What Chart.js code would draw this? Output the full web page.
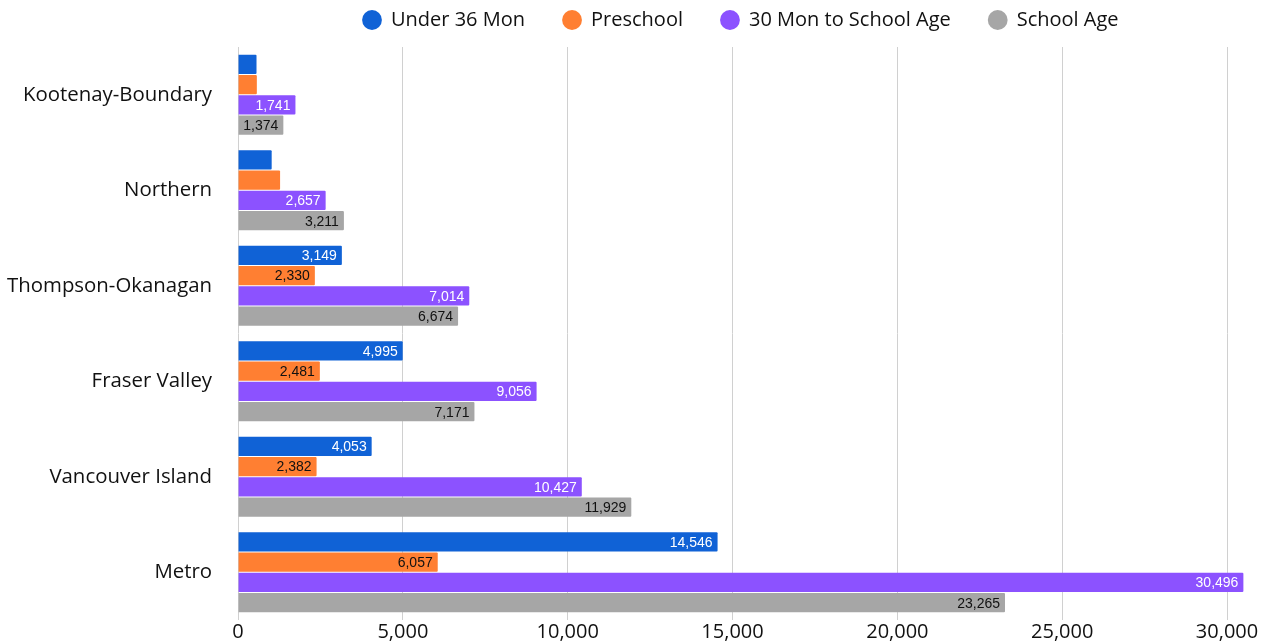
<!DOCTYPE html>
<html>
<head>
<meta charset="utf-8">
<script src="https://cdn.jsdelivr.net/npm/chart.js@4"></script>
<style>
html,body{margin:0;padding:0;background:#fff;}
#wrap{width:1271px;height:642px;position:relative;}
</style>
</head>
<body>
<div id="wrap"><canvas id="c" width="1271" height="642"></canvas></div>
<script>
const categories = ["Kootenay-Boundary","Northern","Thompson-Okanagan","Fraser Valley","Vancouver Island","Metro"];
const seriesNames = ["Under 36 Mon","Preschool","30 Mon to School Age","School Age"];
const under36 = [560, 1020, 3149, 4995, 4053, 14546];
const preschool = [570, 1275, 2330, 2481, 2382, 6057];
const mon30ToSchool = [1741, 2657, 7014, 9056, 10427, 30496];
const schoolAge = [1374, 3211, 6674, 7171, 11929, 23265];
const xTicks = [0, 5000, 10000, 15000, 20000, 25000, 30000];

const colors = ["#1062d6", "#ff7f32", "#8c52ff", "#a6a6a6"];
const labelColors = ["#ffffff", "#111111", "#ffffff", "#111111"];
const values = [under36, preschool, mon30ToSchool, schoolAge];

const plain = "'Open Sans','Noto Sans',sans-serif";
const LEGEND_GAP = 38;
const LEGEND_START_X = 363;

const valueLabels = {
  id: 'valueLabels',
  afterDatasetsDraw(chart) {
    const ctx = chart.ctx;
    ctx.save();
    ctx.font = "14px 'Liberation Sans', Arial, sans-serif";
    ctx.textAlign = 'right';
    ctx.textBaseline = 'middle';
    chart.data.datasets.forEach((ds, di) => {
      const meta = chart.getDatasetMeta(di);
      meta.data.forEach((el, i) => {
        const txt = ds.data[i].toLocaleString('en-US');
        const w = ctx.measureText(txt).width;
        const barW = el.x - el.base;
        if (w + 9 <= barW) {
          ctx.fillStyle = labelColors[di];
          ctx.fillText(txt, el.x - 5, el.y + 1);
        }
      });
    });
    ctx.restore();
  }
};

const legendFit = {
  id: 'legendFit',
  beforeInit(chart) {
    const orig = chart.legend.fit;
    chart.legend.fit = function () {
      orig.bind(chart.legend)();
      this.height = 75;
    };
  },
  afterLayout(chart) {
    const lg = chart.legend;
    const w = lg.right - lg.left;
    lg.left = LEGEND_START_X - LEGEND_GAP;
    lg.right = lg.left + w;
  }
};

new Chart(document.getElementById('c'), {
  type: 'bar',
  data: {
    labels: categories,
    datasets: seriesNames.map((n, i) => ({
      label: n,
      data: values[i],
      backgroundColor: colors[i],
      borderWidth: 0,
      borderRadius: 1,
      categoryPercentage: 0.85,
      barPercentage: 0.95
    }))
  },
  options: {
    indexAxis: 'y',
    responsive: false,
    animation: false,
    layout: { padding: { left: -11, right: 11, top: -28, bottom: -2 } },
    plugins: {
      legend: {
        position: 'top',
        align: 'start',
        labels: {
          usePointStyle: true,
          pointStyle: 'circle',
          boxWidth: 18,
          boxHeight: 14,
          padding: LEGEND_GAP,
          color: '#111',
          font: { family: plain, size: 20 }
        }
      },
      tooltip: { enabled: false }
    },
    scales: {
      x: {
        min: 0,
        max: 31000,
        afterBuildTicks(scale) { scale.ticks = xTicks.map(v => ({ value: v })); },
        grid: { color: '#d0d0d0', lineWidth: 1, drawTicks: false },
        border: { display: false },
        ticks: {
          padding: 0,
          color: '#111',
          font: { family: plain, size: 20 },
          callback: v => Number(v).toLocaleString('en-US')
        }
      },
      y: {
        afterFit(scale) { scale.paddingTop = 0; scale.paddingBottom = 0; },
        grid: { display: false },
        border: { display: false },
        ticks: {
          padding: 18,
          color: '#111',
          font: { family: plain, size: 20.4 }
        }
      }
    }
  },
  plugins: [valueLabels, legendFit]
});
</script>
</body>
</html>
